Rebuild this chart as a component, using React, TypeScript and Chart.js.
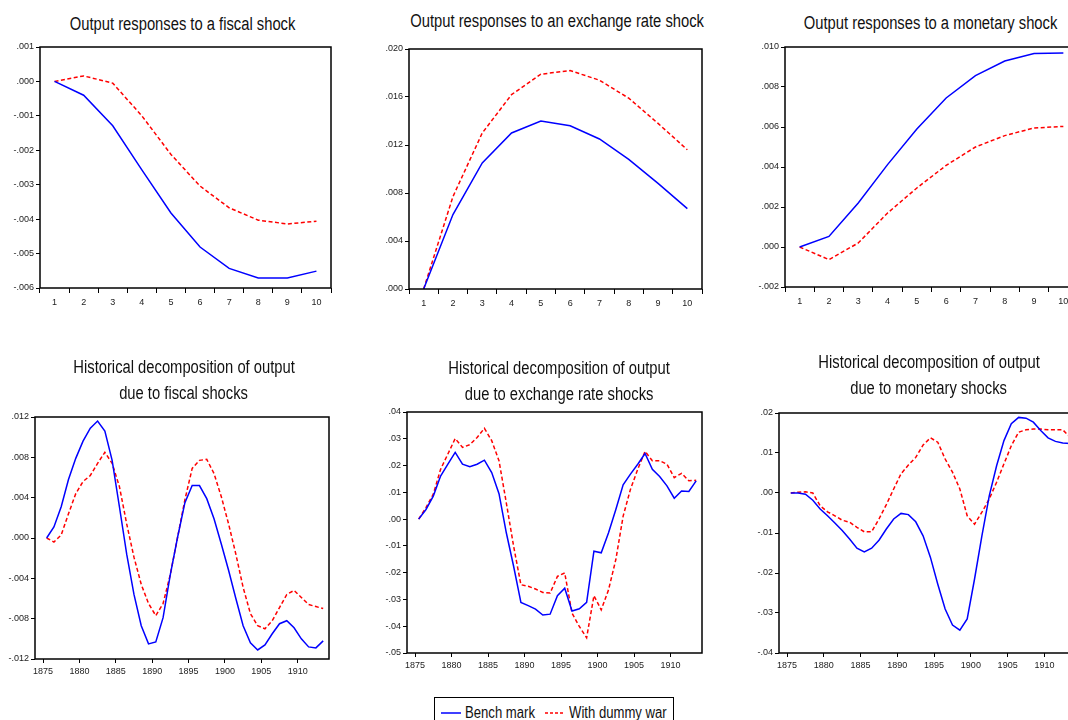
import React, { useEffect, useRef } from "react";
import { Chart, registerables } from "chart.js";

Chart.register(...registerables);

// ---------- data ----------
const horizons = ["1", "2", "3", "4", "5", "6", "7", "8", "9", "10"];

const fiscalIrfBench = [0, -0.0004, -0.00129, -0.00257, -0.00382, -0.00481, -0.00543, -0.00571, -0.00571, -0.00551];
const fiscalIrfWar = [0, 0.00016, -0.00005, -0.001, -0.00212, -0.00304, -0.00367, -0.00403, -0.00414, -0.00406];

const exchIrfBench = [0, 0.0062, 0.0105, 0.013, 0.014, 0.0136, 0.0125, 0.0108, 0.0088, 0.0067];
const exchIrfWar = [0, 0.0077, 0.013, 0.0162, 0.0179, 0.0182, 0.0174, 0.0159, 0.0138, 0.0116];

const monIrfBench = [0, 0.00053, 0.0022, 0.00412, 0.0059, 0.00745, 0.00857, 0.0093, 0.00967, 0.0097];
const monIrfWar = [0, -0.00063, 0.0002, 0.0017, 0.00295, 0.00408, 0.005, 0.00557, 0.00595, 0.00603];

const years = [
  1875, 1876, 1877, 1878, 1879, 1880, 1881, 1882, 1883, 1884,
  1885, 1886, 1887, 1888, 1889, 1890, 1891, 1892, 1893, 1894,
  1895, 1896, 1897, 1898, 1899, 1900, 1901, 1902, 1903, 1904,
  1905, 1906, 1907, 1908, 1909, 1910, 1911, 1912, 1913,
];
const yearTicks = [1875, 1880, 1885, 1890, 1895, 1900, 1905, 1910];

const fiscalHistBench = [
  0, 0.0011, 0.0031, 0.0058, 0.0079, 0.0096, 0.0109, 0.0116, 0.0106, 0.0077,
  0.0031, -0.0016, -0.0056, -0.0087, -0.0105, -0.0103, -0.0079, -0.0036, 0.0001, 0.0035,
  0.0052, 0.0052, 0.0039, 0.0019, -0.0006, -0.0032, -0.006, -0.0087, -0.0104, -0.0111,
  -0.0106, -0.0095, -0.0085, -0.0082, -0.0089, -0.01, -0.0108, -0.0109, -0.0102,
];
const fiscalHistWar = [
  0, -0.0004, 0.0003, 0.0024, 0.0044, 0.0056, 0.0062, 0.0074, 0.0085, 0.0074,
  0.0051, 0.0014, -0.0019, -0.0046, -0.0065, -0.0077, -0.0065, -0.0036, 0.0001, 0.0038,
  0.0069, 0.0077, 0.0078, 0.0064, 0.0041, 0.0014, -0.0016, -0.0049, -0.0075, -0.0087,
  -0.009, -0.0082, -0.0069, -0.0056, -0.0052, -0.0059, -0.0066, -0.0068, -0.007,
];

const exchHistBench = [
  0, 0.0036, 0.0086, 0.0161, 0.0205, 0.0249, 0.0205, 0.0196, 0.0205, 0.022,
  0.0174, 0.0095, -0.0051, -0.0176, -0.0311, -0.0323, -0.0336, -0.0358, -0.0355, -0.0286,
  -0.0258, -0.0343, -0.0335, -0.0311, -0.012, -0.0126, -0.0051, 0.0036, 0.0128, 0.0168,
  0.0205, 0.0245, 0.0186, 0.0159, 0.0124, 0.0078, 0.0105, 0.0103, 0.0143,
];
const exchHistWar = [
  0, 0.0043, 0.0093, 0.0186, 0.0243, 0.0301, 0.0268, 0.0278, 0.0305, 0.0339,
  0.0293, 0.0218, 0.0061, -0.0101, -0.0245, -0.0251, -0.0261, -0.0274, -0.0276, -0.0214,
  -0.0201, -0.0351, -0.0401, -0.0443, -0.0286, -0.0339, -0.0264, -0.0151, 0.0011, 0.0111,
  0.0186, 0.0253, 0.0218, 0.0218, 0.0205, 0.0155, 0.0171, 0.0143, 0.0145,
];

const monHistBench = [
  0, 0, -0.0003, -0.0018, -0.004, -0.0057, -0.0075, -0.0094, -0.0115, -0.0138,
  -0.0147, -0.0138, -0.0118, -0.009, -0.0065, -0.0051, -0.0054, -0.0072, -0.0107, -0.0161,
  -0.0228, -0.029, -0.033, -0.0343, -0.0315, -0.0215, -0.0107, -0.0007, 0.0068, 0.0131,
  0.0173, 0.0189, 0.0187, 0.0177, 0.0156, 0.0138, 0.0129, 0.0125, 0.0124,
];
const monHistWar = [
  0, 0.0002, 0.0003, 0, -0.0032, -0.0047, -0.0057, -0.0068, -0.0073, -0.0086,
  -0.0097, -0.0097, -0.0065, -0.0029, 0.001, 0.0048, 0.007, 0.0089, 0.012, 0.0138,
  0.0127, 0.0085, 0.0052, 0.001, -0.0057, -0.0078, -0.0048, -0.0015, 0.0027, 0.0073,
  0.0118, 0.0152, 0.0158, 0.016, 0.016, 0.0158, 0.0158, 0.0158, 0.0139,
];

const fiscalIrfTicks = [-0.006, -0.005, -0.004, -0.003, -0.002, -0.001, 0, 0.001];
const exchIrfTicks = [0, 0.004, 0.008, 0.012, 0.016, 0.02];
const monIrfTicks = [-0.002, 0, 0.002, 0.004, 0.006, 0.008, 0.01];
const fiscalHistTicks = [-0.012, -0.008, -0.004, 0, 0.004, 0.008, 0.012];
const exchHistTicks = [-0.05, -0.04, -0.03, -0.02, -0.01, 0, 0.01, 0.02, 0.03, 0.04];
const monHistTicks = [-0.04, -0.03, -0.02, -0.01, 0, 0.01, 0.02];

const titles = [
  ["Output responses to a fiscal shock"],
  ["Output responses to an exchange rate shock"],
  ["Output responses to a monetary shock"],
  ["Historical decomposition of output", "due to fiscal shocks"],
  ["Historical decomposition of output", "due to exchange rate shocks"],
  ["Historical decomposition of output", "due to monetary shocks"],
];
const seriesNames = ["Bench mark", "With dummy war"];

// ---------- style / layout ----------
const FONT = '"Liberation Sans", Arial, sans-serif';
const NARROW = 0.82;
const BLUE = "#0000ff";
const RED = "#ff0000";
const AXW = 40;
const AXH = 26;
const PAD = 8;

type Spec = {
  rect: { l: number; t: number; r: number; b: number };
  kind: "irf" | "hist";
  bench: number[];
  war: number[];
  yTicks: number[];
  dec: number;
  title: { cx: number; top: number };
  titleIdx: number;
};

const specs: Spec[] = [
  { rect: { l: 40, t: 47, r: 331, b: 288 }, kind: "irf", bench: fiscalIrfBench, war: fiscalIrfWar, yTicks: fiscalIrfTicks, dec: 3, title: { cx: 183, top: 11 }, titleIdx: 0 },
  { rect: { l: 409, t: 49, r: 702, b: 289 }, kind: "irf", bench: exchIrfBench, war: exchIrfWar, yTicks: exchIrfTicks, dec: 3, title: { cx: 557, top: 8 }, titleIdx: 1 },
  { rect: { l: 785, t: 47, r: 1078, b: 287 }, kind: "irf", bench: monIrfBench, war: monIrfWar, yTicks: monIrfTicks, dec: 3, title: { cx: 931, top: 10 }, titleIdx: 2 },
  { rect: { l: 35, t: 417, r: 329, b: 659 }, kind: "hist", bench: fiscalHistBench, war: fiscalHistWar, yTicks: fiscalHistTicks, dec: 3, title: { cx: 184, top: 354 }, titleIdx: 3 },
  { rect: { l: 407, t: 412, r: 702, b: 653 }, kind: "hist", bench: exchHistBench, war: exchHistWar, yTicks: exchHistTicks, dec: 2, title: { cx: 559, top: 355 }, titleIdx: 4 },
  { rect: { l: 779, t: 413, r: 1076, b: 653 }, kind: "hist", bench: monHistBench, war: monHistWar, yTicks: monHistTicks, dec: 2, title: { cx: 929, top: 349 }, titleIdx: 5 },
];

function fmt(v: number, d: number) {
  const s = Math.abs(v).toFixed(d).replace(/^0/, "");
  return (v < -1e-12 ? "-" : "") + s;
}

const framePlugin = {
  id: "frame",
  afterDraw(chart: any) {
    const { ctx, chartArea: a } = chart;
    ctx.save();
    ctx.strokeStyle = "#000";
    ctx.lineWidth = 1.5;
    ctx.strokeRect(a.left, a.top, a.right - a.left, a.bottom - a.top);
    ctx.restore();
  },
};

function PanelChart({ spec }: { spec: Spec }) {
  const ref = useRef<HTMLCanvasElement>(null);
  const { l, t, r, b } = spec.rect;
  const W = r - l + AXW + PAD;
  const H = b - t + PAD + AXH;

  useEffect(() => {
    const tickFont = { family: FONT, size: 9 };
    const isIrf = spec.kind === "irf";
    const toPts = (arr: number[]) =>
      isIrf ? arr : arr.map((v, i) => ({ x: years[i] + 0.5, y: v })); // annual obs at mid-year
    const datasets = [
      { label: seriesNames[0], data: toPts(spec.bench) as any, borderColor: BLUE, borderWidth: 1.5, pointRadius: 0, tension: 0, fill: false },
      { label: seriesNames[1], data: toPts(spec.war) as any, borderColor: RED, borderWidth: 1.5, borderDash: [4, 2.5], pointRadius: 0, tension: 0, fill: false },
    ];
    const xScale: any = isIrf
      ? {
          type: "category",
          offset: true,
          grid: { offset: true, drawOnChartArea: false, drawTicks: true, tickLength: 5, color: "#000", lineWidth: 1 },
          border: { display: false },
          ticks: { font: tickFont, color: "#222", padding: 4, maxRotation: 0, autoSkip: false },
          afterFit: (s: any) => { s.height = AXH; },
        }
      : {
          type: "linear",
          min: 1873.9,
          max: 1914.3,
          afterBuildTicks: (s: any) => { s.ticks = yearTicks.map((v) => ({ value: v })); },
          grid: { drawOnChartArea: false, drawTicks: true, tickLength: 4, color: "#000", lineWidth: 1 },
          border: { display: false },
          ticks: { font: tickFont, color: "#222", padding: 3, maxRotation: 0, autoSkip: false, callback: (v: any) => String(v) },
          afterFit: (s: any) => { s.height = AXH; },
        };
    const yt = spec.yTicks;
    const chart = new Chart(ref.current as HTMLCanvasElement, {
      type: "line",
      data: { labels: isIrf ? horizons : undefined, datasets } as any,
      options: {
        animation: false,
        responsive: false,
        devicePixelRatio: 1,
        layout: { padding: { top: PAD, right: PAD, left: 0, bottom: 0 } },
        plugins: { legend: { display: false }, tooltip: { enabled: false }, title: { display: false } },
        scales: {
          x: xScale,
          y: {
            type: "linear",
            min: yt[0],
            max: yt[yt.length - 1],
            afterBuildTicks: (s: any) => { s.ticks = yt.map((v) => ({ value: v })); },
            grid: { drawOnChartArea: false, drawTicks: true, tickLength: 4, color: "#000", lineWidth: 1 },
            border: { display: false },
            ticks: { font: tickFont, color: "#222", padding: 2, callback: (v: any) => fmt(Number(v), spec.dec) },
            afterFit: (s: any) => { s.width = AXW; },
          } as any,
        },
      },
      plugins: [framePlugin],
    });
    return () => chart.destroy();
  }, [spec]);

  return (
    <canvas
      ref={ref}
      width={W}
      height={H}
      style={{ position: "absolute", left: l - AXW, top: t - PAD, width: W, height: H }}
    />
  );
}

const narrowText = (origin: string): React.CSSProperties => ({
  display: "inline-block",
  transform: `scaleX(${NARROW})`,
  transformOrigin: origin,
  whiteSpace: "nowrap",
});

export default function App() {
  return (
    <div style={{ position: "fixed", left: 0, top: 0, width: 1068, height: 720, overflow: "hidden", background: "#fff" }}>
      {specs.map((s, i) => (
        <PanelChart key={i} spec={s} />
      ))}
      {specs.map((s, i) => (
        <div
          key={"t" + i}
          style={{
            position: "absolute",
            left: s.title.cx - 200,
            width: 400,
            top: s.title.top,
            textAlign: "center",
            fontFamily: FONT,
            fontSize: 18,
            lineHeight: "26px",
            color: "#111",
            whiteSpace: "nowrap",
          }}
        >
          {titles[s.titleIdx].map((line, j) => (
            <div key={j}>
              <span style={narrowText("center")}>{line}</span>
            </div>
          ))}
        </div>
      ))}
      <div
        style={{
          position: "absolute",
          left: 434,
          top: 697,
          width: 240,
          height: 34,
          border: "1px solid #000",
          boxSizing: "border-box",
          fontFamily: FONT,
          fontSize: 16,
          color: "#111",
        }}
      >
        <svg width={20} height={4} style={{ position: "absolute", left: 6, top: 13 }}>
          <line x1={0} y1={2} x2={20} y2={2} stroke={BLUE} strokeWidth={1.5} />
        </svg>
        <div style={{ position: "absolute", left: 30, top: 5, lineHeight: "20px" }}>
          <span style={narrowText("left center")}>{seriesNames[0]}</span>
        </div>
        <svg width={20} height={4} style={{ position: "absolute", left: 110, top: 13 }}>
          <line x1={0} y1={2} x2={20} y2={2} stroke={RED} strokeWidth={1.5} strokeDasharray="3 2" />
        </svg>
        <div style={{ position: "absolute", left: 134, top: 5, lineHeight: "20px" }}>
          <span style={narrowText("left center")}>{seriesNames[1]}</span>
        </div>
      </div>
    </div>
  );
}
